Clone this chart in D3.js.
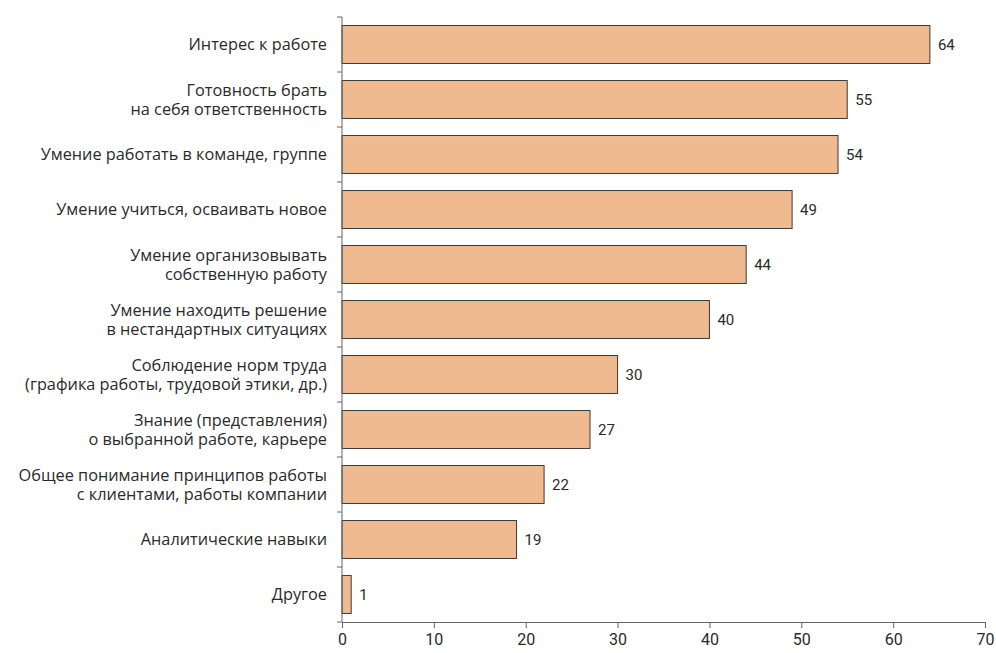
<!DOCTYPE html>
<html><head><meta charset="utf-8">
<script src="https://cdn.jsdelivr.net/npm/d3@7"></script>
<style>body{margin:0;background:#fff;} svg{display:block;}</style>
</head><body>
<svg id="chart" width="996" height="653"></svg>
<script>
const categories = [
  ["Интерес к работе"],
  ["Готовность брать", "на себя ответственность"],
  ["Умение работать в команде, группе"],
  ["Умение учиться, осваивать новое"],
  ["Умение организовывать", "собственную работу"],
  ["Умение находить решение", "в нестандартных ситуациях"],
  ["Соблюдение норм труда", "(графика работы, трудовой этики, др.)"],
  ["Знание (представления)", "о выбранной работе, карьере"],
  ["Общее понимание принципов работы", "с клиентами, работы компании"],
  ["Аналитические навыки"],
  ["Другое"]
];
const values = [64, 55, 54, 49, 44, 40, 30, 27, 22, 19, 1];
const xTicks = [0, 10, 20, 30, 40, 50, 60, 70];

const svg = d3.select("#chart");
const margin = {left: 342, right: 11, top: 17, bottom: 31};
const W = 996, H = 653;
const x = d3.scaleLinear().domain([0, 70]).range([margin.left, W - margin.right]);
const idx = d3.range(values.length);
const y = d3.scaleBand().domain(idx).range([margin.top, H - margin.bottom]).paddingInner(0.31).paddingOuter(0.155);

const textColor = "#2a2a2a";
const axisColor = "#666";

// bars
svg.append("g").selectAll("rect").data(idx).join("rect")
  .attr("x", x(0))
  .attr("y", i => y(i))
  .attr("width", i => x(values[i]) - x(0))
  .attr("height", y.bandwidth())
  .attr("fill", "#F0BA90")
  .attr("stroke", "#3a3a3a")
  .attr("stroke-width", 1);

// value labels
svg.append("g").selectAll("text").data(idx).join("text")
  .attr("x", i => x(values[i]) + 8)
  .attr("y", i => y(i) + y.bandwidth() / 2)
  .attr("dy", "0.35em")
  .attr("font-family", "Roboto, 'Liberation Sans', sans-serif")
  .attr("font-size", 15)
  .attr("fill", textColor)
  .text(i => values[i]);

// y axis line and ticks at band boundaries
const yTop = margin.top, yBot = H - margin.bottom;
const gy = svg.append("g");
gy.append("line").attr("x1", x(0)).attr("x2", x(0)).attr("y1", yTop).attr("y2", yBot)
  .attr("stroke", axisColor).attr("stroke-width", 1);
const boundaries = d3.range(values.length + 1).map(k => yTop + k * (yBot - yTop) / values.length);
gy.selectAll("line.tk").data(boundaries).join("line").attr("class", "tk")
  .attr("x1", x(0) - 5).attr("x2", x(0)).attr("y1", d => d).attr("y2", d => d)
  .attr("stroke", axisColor);

// category labels
const lab = svg.append("g").attr("font-family", "'Open Sans', 'Noto Sans', sans-serif")
  .attr("font-size", 16.3).attr("fill", textColor).attr("text-anchor", "end");
idx.forEach(i => {
  const lines = categories[i];
  const cy = y(i) + y.bandwidth() / 2;
  const lh = 19;
  const t = lab.append("text").attr("x", x(0) - 15);
  lines.forEach((ln, j) => {
    t.append("tspan").attr("x", x(0) - 15)
      .attr("y", cy + (j - (lines.length - 1) / 2) * lh)
      .attr("dy", "0.35em").text(ln);
  });
});

// x axis
const gx = svg.append("g").attr("transform", `translate(0,${yBot})`)
  .call(d3.axisBottom(x).tickValues(xTicks).tickSize(6).tickPadding(6));
gx.select(".domain").attr("stroke", axisColor);
gx.selectAll(".tick line").attr("stroke", axisColor);
gx.selectAll(".tick text").attr("font-family", "Roboto, 'Liberation Sans', sans-serif")
  .attr("font-size", 16).attr("fill", textColor);
</script>
</body></html>
